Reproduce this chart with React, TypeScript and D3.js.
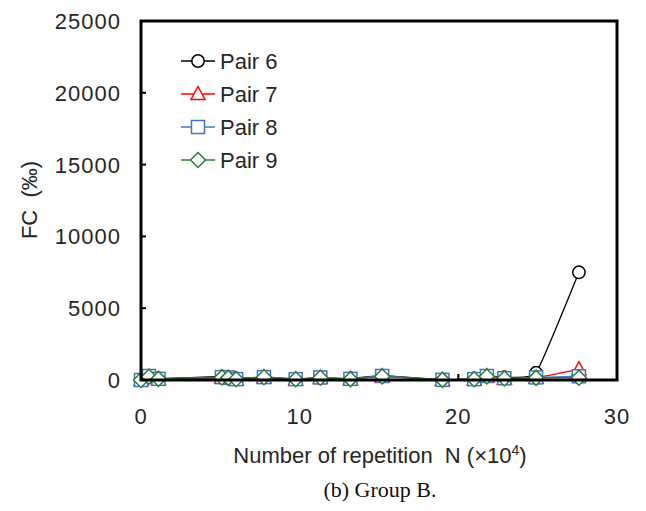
import React, { useRef, useEffect } from 'react';
import * as d3 from 'd3';

// repetition N (x10^4) at each measurement
const repetitions = [0, 0.5, 1.1, 5.1, 5.5, 6.0, 7.75, 9.75, 11.3, 13.2, 15.2, 19.0, 21.0, 21.8, 22.9, 24.9, 27.6];

const pair6 = [0, 250, 100, 250, 200, 100, 200, 80, 150, 100, 300, 20, 100, 300, 200, 500, 7500];
const pair7 = [0, 200, 50, 150, 100, 30, 180, 40, 140, 60, 250, 0, 30, 250, 100, 150, 750];
const pair8 = [0, 280, 80, 200, 180, 60, 200, 60, 180, 80, 280, 10, 60, 280, 120, 180, 260];
const pair9 = [0, 230, 80, 180, 150, 50, 190, 50, 160, 60, 240, 10, 50, 250, 100, 150, 160];

const seriesNames = ['Pair 6', 'Pair 7', 'Pair 8', 'Pair 9'];
const seriesValues = [pair6, pair7, pair8, pair9];
const seriesColors = ['#000000', '#ff0000', '#4472c4', '#2e7d32'];
const seriesShapes = ['circle', 'triangle', 'square', 'diamond'];

const xTicks = [0, 10, 20, 30];
const yTicks = [0, 5000, 10000, 15000, 20000, 25000];

const App = () => {
  const ref = useRef<SVGSVGElement>(null);

  useEffect(() => {
    const width = 646;
    const height = 511;
    const margin = { top: 21, right: 29, bottom: 131, left: 141 };
    const innerW = 617 - margin.left;
    const innerH = 380 - margin.top;
    const font = 'Arial, "Liberation Sans", sans-serif';
    const textColor = '#262626';

    const svg = d3.select(ref.current);
    svg.selectAll('*').remove();
    svg.attr('width', width).attr('height', height);

    const x = d3.scaleLinear().domain([0, 30]).range([0, innerW]);
    const y = d3.scaleLinear().domain([0, 25000]).range([innerH, 0]);

    const g = svg.append('g').attr('transform', `translate(${margin.left},${margin.top})`);

    // inner ticks
    g.selectAll('.ytick')
      .data(yTicks.slice(1, -1))
      .join('line')
      .attr('x1', 0).attr('x2', 5)
      .attr('y1', d => y(d)).attr('y2', d => y(d))
      .attr('stroke', '#000').attr('stroke-width', 2);
    g.selectAll('.xtick')
      .data(xTicks.slice(1, -1))
      .join('line')
      .attr('x1', d => x(d)).attr('x2', d => x(d))
      .attr('y1', innerH).attr('y2', innerH - 6)
      .attr('stroke', '#000').attr('stroke-width', 2);

    // tick labels
    g.selectAll('.ylab')
      .data(yTicks)
      .join('text')
      .attr('x', -20).attr('y', d => y(d))
      .attr('dy', '0.36em')
      .attr('text-anchor', 'end')
      .attr('font-family', font).attr('font-size', 22)
      .attr('letter-spacing', 1)
      .attr('fill', textColor)
      .text(d => d);
    g.selectAll('.xlab')
      .data(xTicks)
      .join('text')
      .attr('x', d => x(d)).attr('y', innerH + 44)
      .attr('text-anchor', 'middle')
      .attr('font-family', font).attr('font-size', 22)
      .attr('letter-spacing', 1)
      .attr('fill', textColor)
      .text(d => d);

    // axis titles
    svg.append('text')
      .attr('transform', `translate(29,200) rotate(-90)`)
      .attr('text-anchor', 'middle')
      .attr('dy', '0.36em')
      .attr('font-family', font).attr('font-size', 22)
      .attr('fill', textColor)
      .style('white-space', 'pre')
      .text('FC  (‰)');
    const xt = svg.append('text')
      .attr('x', 380).attr('y', 463)
      .attr('text-anchor', 'middle')
      .attr('font-family', font).attr('font-size', 22)
      .attr('fill', textColor)
      .style('white-space', 'pre');
    xt.append('tspan').text('Number of repetition  N (×10');
    xt.append('tspan').attr('font-size', 14).attr('dy', -8).text('4');
    xt.append('tspan').attr('dy', 8).text(')');

    svg.append('text')
      .attr('x', 380).attr('y', 497)
      .attr('text-anchor', 'middle')
      .attr('font-family', '"Liberation Serif", "Times New Roman", serif')
      .attr('font-size', 22)
      .attr('fill', '#111')
      .text('(b) Group B.');

    const lineGen = d3.line<number>()
      .x((d, i) => x(repetitions[i]))
      .y(d => y(d))
      .curve(d3.curveCardinal.tension(0.6));

    const marker = (sel, shape, color) => {
      const r = 6.5;
      if (shape === 'circle') {
        sel.append('circle').attr('r', r - 0.3);
      } else if (shape === 'triangle') {
        sel.append('path').attr('d', `M0,${-r - 1}L${r + 0.5},${r - 1}L${-r - 0.5},${r - 1}Z`);
      } else if (shape === 'square') {
        sel.append('rect').attr('x', -r).attr('y', -r).attr('width', 2 * r).attr('height', 2 * r);
      } else {
        sel.append('path').attr('d', `M0,${-r - 1}L${r + 1},0L0,${r + 1}L${-r - 1},0Z`);
      }
      sel.selectAll('*').attr('fill', '#fff').attr('stroke', color).attr('stroke-width', 1.5);
    };

    seriesValues.forEach((vals, si) => {
      const color = seriesColors[si];
      g.append('path')
        .datum(vals)
        .attr('d', lineGen)
        .attr('fill', 'none')
        .attr('stroke', color)
        .attr('stroke-width', 1.3);
      vals.forEach((v, i) => {
        const m = g.append('g').attr('transform', `translate(${x(repetitions[i])},${y(v)})`);
        marker(m, seriesShapes[si], color);
      });
    });

    // frame
    g.append('rect')
      .attr('x', 0).attr('y', 0)
      .attr('width', innerW).attr('height', innerH)
      .attr('fill', 'none')
      .attr('stroke', '#000')
      .attr('stroke-width', 3);

    // legend
    const legend = g.append('g').attr('transform', `translate(40,40)`);
    seriesNames.forEach((name, i) => {
      const row = legend.append('g').attr('transform', `translate(0,${i * 33})`);
      row.append('line')
        .attr('x1', 0).attr('x2', 34)
        .attr('stroke', seriesColors[i]).attr('stroke-width', 1.3);
      const m = row.append('g').attr('transform', 'translate(17,0)');
      marker(m, seriesShapes[i], seriesColors[i]);
      row.append('text')
        .attr('x', 39).attr('dy', '0.36em')
        .attr('font-family', font).attr('font-size', 22)
        .attr('fill', textColor)
        .text(name);
    });
  }, []);

  return <svg ref={ref} style={{ display: 'block', position: 'absolute', left: 0, top: 0 }} />;
};

export default App;
